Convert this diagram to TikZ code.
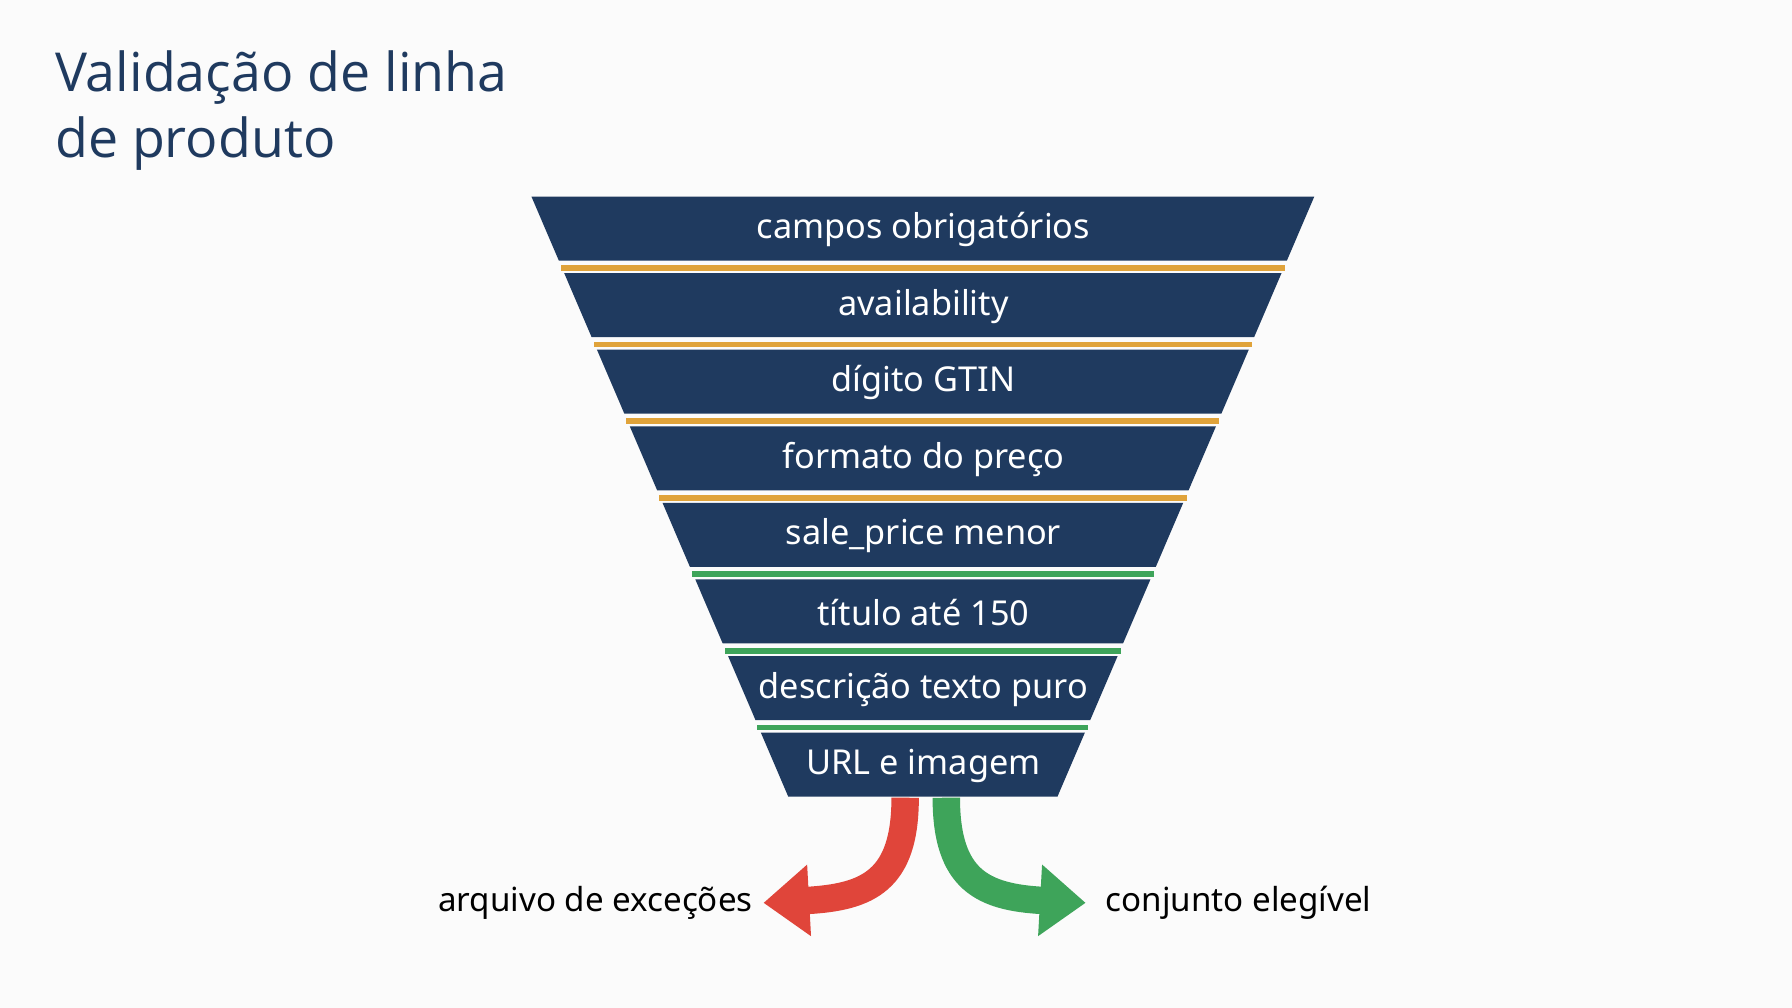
\documentclass[tikz,border=0pt]{standalone}
\usepackage{fontspec}
\setmainfont{Noto Sans}
\newfontfamily\titlefont{Open Sans}
\usetikzlibrary{arrows.meta}
\definecolor{navy}{HTML}{1F3A5F}
\definecolor{gold}{HTML}{E0A33A}
\definecolor{grn}{HTML}{3EA45A}
\definecolor{rd}{HTML}{E0453A}
\begin{document}
\begin{tikzpicture}[x=1pt,y=-1pt,
 band/.style={fill=navy},
 lbl/.style={text=white,font=\fontsize{30}{36}\selectfont},
 side/.style={text=black,font=\fontsize{29}{34}\selectfont},
 flow/.style={line width=24pt,-{Triangle[length=40pt,width=60pt]}}]
\useasboundingbox[fill=white!97!gray] (0,0) rectangle (1568,882);
\node[anchor=north west,align=left,text=navy,font=\titlefont\fontsize{47}{58}\selectfont,inner sep=0pt] (title) at (48,44) {Validação de linha\\de produto};
\foreach \i/\t in {0/campos obrigatórios,1/availability,2/dígito GTIN,3/formato do preço,4/sale\_price menor,5/título até 150,6/descrição texto puro,7/URL e imagem}{
  \pgfmathsetmacro{\tp}{172+67*\i}
  \pgfmathsetmacro{\bt}{\tp+56}
  \pgfmathsetmacro{\xlt}{465+0.428*(\tp-172)}
  \pgfmathsetmacro{\xlb}{465+0.428*(\bt-172)}
  \pgfmathsetmacro{\xrt}{1150-0.428*(\tp-172)}
  \pgfmathsetmacro{\xrb}{1150-0.428*(\bt-172)}
  \fill[band] (\xlt,\tp) -- (\xrt,\tp) -- (\xrb,\bt) -- (\xlb,\bt) -- cycle;
  \node[lbl] (b\i) at (808,\tp+29) {\t};
  \ifnum\i>0
    \pgfmathsetmacro{\sa}{\tp-7}
    \pgfmathsetmacro{\sb}{\tp-2}
    \pgfmathsetmacro{\xa}{465+0.428*(\sa-172)}
    \pgfmathsetmacro{\xb}{1150-0.428*(\sa-172)}
    \ifnum\i<5 \def\sc{gold}\else\def\sc{grn}\fi
    \fill[\sc] (\xa,\sa) rectangle (\xb,\sb);
  \fi
}
\coordinate (rs) at (792,698);
\coordinate (gs) at (828,698);
\coordinate (re) at (668,790);
\coordinate (ge) at (950,790);
\draw[flow,rd] (rs) .. controls (792,770) and (760,785) .. (re);
\draw[flow,grn] (gs) .. controls (828,770) and (860,785) .. (ge);
\node[side,anchor=east] (lx) at (662,790) {arquivo de exceções};
\node[side,anchor=west] (rx) at (964,790) {conjunto elegível};
\end{tikzpicture}
\end{document}
